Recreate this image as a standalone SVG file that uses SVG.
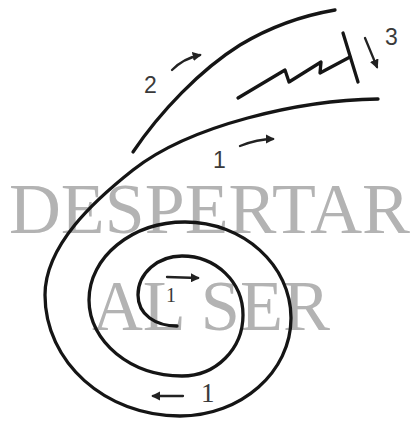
<svg xmlns="http://www.w3.org/2000/svg" width="417" height="422" viewBox="0 0 417 422">
<style>
.bg{font-family:"Liberation Serif",serif;font-size:71px;fill:#b3b3b3}
.ln{fill:none;stroke:#151515;stroke-width:3.3;stroke-linecap:round;stroke-linejoin:round}
.ar{fill:none;stroke:#222;stroke-width:2.3;stroke-linecap:round}
.num{font-family:"Liberation Sans",sans-serif;font-size:23px;fill:#3a3a3a}
.nums{font-family:"Liberation Serif",serif;fill:#3a3a3a}
</style>
<defs>
<marker id="ah" viewBox="0 0 10 10" refX="8" refY="5" markerWidth="4" markerHeight="4" orient="auto" markerUnits="strokeWidth">
<path d="M0,0 L10,5 L0,10 Z" fill="#222"/>
</marker>
</defs>
<rect width="417" height="422" fill="#ffffff"/>
<g id="title">
<text class="bg" x="9" y="233" textLength="401" lengthAdjust="spacingAndGlyphs">DESPERTAR</text>
<text class="bg" x="92" y="330" textLength="238" lengthAdjust="spacingAndGlyphs">AL SER</text>
</g>
<g id="connectors">
<path id="spiral" class="ln" d="M378,99 C300,100 190,125 133,170 C95,200 45,245 45,295 C45,362 105,416 180,416 C241,416 291,372 291,318 C291,265 243,222 185,222 C132,222 89,257 89,300 C89,342 131,376 182,376 C216,376 243,349 243,315 C243,282 216,256 182,256 C158,256 138,273 138,295 C138,315 156,326 177,326"/>
<path id="stream2" class="ln" d="M133,152 C160,112 200,70 240,45 C270,27 300,16 335,10"/>
<path id="zigzag" class="ln" d="M238,98 L285,70 L289,82 L321,62 L320,73 L350,57"/>
<path id="bar" class="ln" d="M343,33 L358,82"/>
<path id="arrow2" class="ar" d="M172,70 C180,62 190,57 200,55" marker-end="url(#ah)"/>
<path id="arrow1top" class="ar" d="M240,146 C250,142 262,139 273,139" marker-end="url(#ah)"/>
<path id="arrow3" class="ar" d="M365,38 L377,67" marker-end="url(#ah)"/>
<path id="arrowInner" class="ar" d="M167,277 L198,278" marker-end="url(#ah)"/>
<path id="arrowBottom" class="ar" d="M183,396 L153,396" marker-end="url(#ah)"/>
</g>
<g id="labels">
<text class="num" x="213" y="168">1</text>
<text class="num" x="144" y="93">2</text>
<text class="num" x="385" y="45">3</text>
<text class="nums" x="166" y="302" font-size="20">1</text>
<text class="nums" x="201" y="402" font-size="27">1</text>
</g>
</svg>
